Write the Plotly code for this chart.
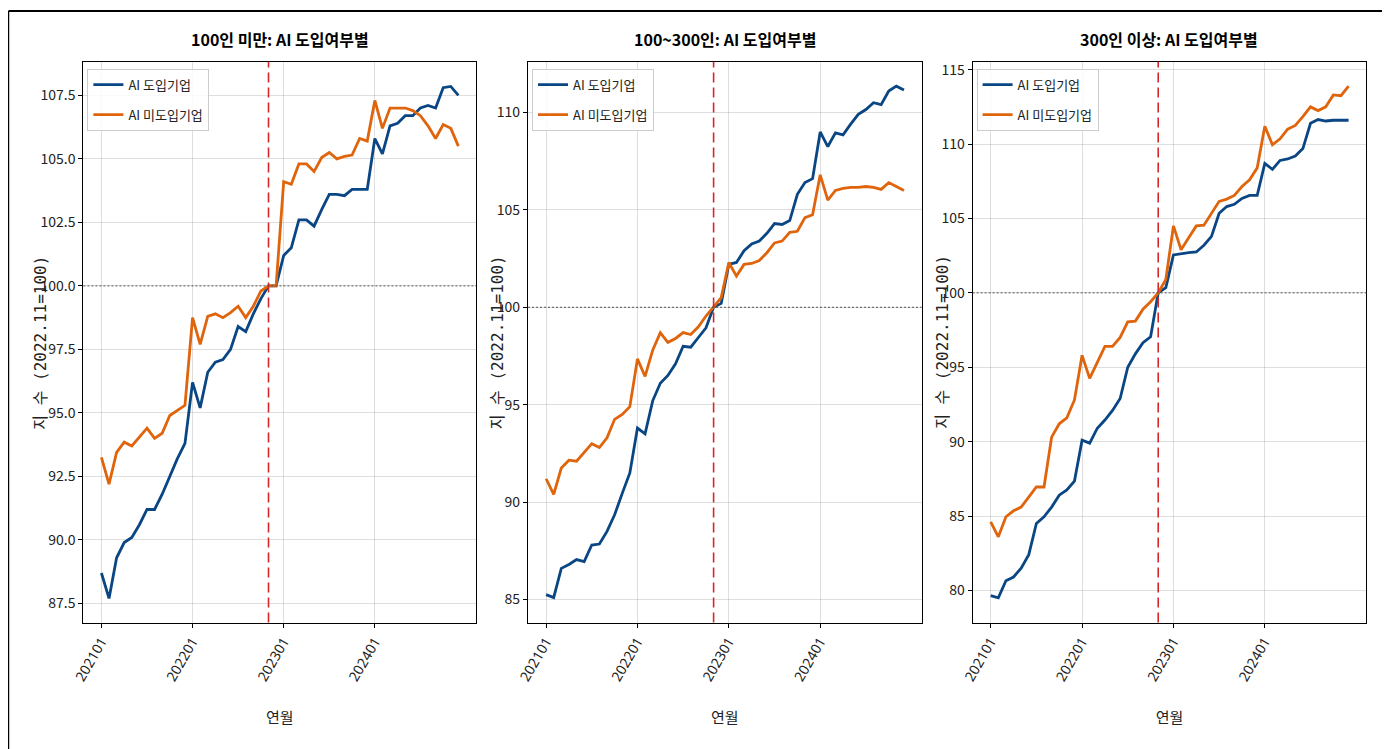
import plotly.graph_objects as go

months = [f"{y}{m:02d}" for y in (2021, 2022, 2023, 2024) for m in range(1, 13)]
tick_labels = ["202101", "202201", "202301", "202401"]
base_month = "202211"

titles = ["100인 미만: AI 도입여부별", "100~300인: AI 도입여부별", "300인 이상: AI 도입여부별"]
series_names = ["AI 도입기업", "AI 미도입기업"]
y_title = "지 수 (2022.11=100)"
x_title = "연월"

small_ai = [88.7, 87.7, 89.3, 89.9, 90.1, 90.6, 91.2, 91.2, 91.8, 92.5, 93.2, 93.8,
            96.2, 95.2, 96.6, 97.0, 97.1, 97.5, 98.4, 98.2, 98.9, 99.5, 100.0, 100.0,
            101.2, 101.5, 102.6, 102.6, 102.35, 103.0, 103.6, 103.6, 103.55, 103.8, 103.8, 103.8,
            105.8, 105.2, 106.3, 106.4, 106.7, 106.7, 107.0, 107.1, 107.0, 107.8, 107.85, 107.5]
small_non = [93.25, 92.2, 93.45, 93.85, 93.7, 94.05, 94.4, 94.0, 94.2, 94.9, 95.1, 95.3,
             98.75, 97.7, 98.8, 98.9, 98.75, 98.95, 99.2, 98.75, 99.2, 99.8, 100.0, 100.0,
             104.1, 104.0, 104.8, 104.8, 104.5, 105.05, 105.25, 105.0, 105.1, 105.15, 105.8, 105.7,
             107.3, 106.2, 107.0, 107.0, 107.0, 106.9, 106.7, 106.3, 105.8, 106.35, 106.2, 105.5]

mid_ai = [85.25, 85.1, 86.6, 86.8, 87.05, 86.95, 87.8, 87.85, 88.5, 89.35, 90.45, 91.5,
          93.8, 93.5, 95.2, 96.1, 96.5, 97.1, 98.0, 97.95, 98.45, 98.95, 100.0, 100.2,
          102.2, 102.3, 102.9, 103.25, 103.4, 103.8, 104.3, 104.25, 104.45, 105.8, 106.4, 106.6,
          109.0, 108.25, 108.95, 108.85, 109.4, 109.9, 110.15, 110.5, 110.4, 111.1, 111.35, 111.15]
mid_non = [91.2, 90.4, 91.75, 92.15, 92.1, 92.55, 93.0, 92.8, 93.3, 94.25, 94.5, 94.9,
           97.35, 96.45, 97.8, 98.7, 98.2, 98.4, 98.7, 98.6, 99.0, 99.55, 100.0, 100.5,
           102.3, 101.6, 102.2, 102.25, 102.4, 102.8, 103.3, 103.4, 103.85, 103.9, 104.6, 104.75,
           106.8, 105.5, 106.0, 106.1, 106.15, 106.15, 106.2, 106.15, 106.05, 106.4, 106.2, 106.0]

large_ai = [79.65, 79.5, 80.65, 80.9, 81.5, 82.4, 84.5, 84.95, 85.6, 86.4, 86.75, 87.35,
            90.1, 89.9, 90.9, 91.45, 92.1, 92.9, 95.0, 95.9, 96.65, 97.05, 100.0, 100.35,
            102.55, 102.65, 102.7, 102.75, 103.2, 103.8, 105.35, 105.8, 105.95, 106.35, 106.55, 106.55,
            108.7, 108.3, 108.9, 109.0, 109.2, 109.7, 111.4, 111.65, 111.55, 111.6, 111.6, 111.6]
large_non = [84.6, 83.6, 84.95, 85.35, 85.6, 86.3, 86.95, 86.95, 90.3, 91.2, 91.6, 92.8,
             95.8, 94.25, 95.3, 96.4, 96.4, 97.0, 98.05, 98.1, 98.9, 99.4, 100.0, 100.9,
             104.5, 102.9, 103.7, 104.5, 104.55, 105.35, 106.15, 106.3, 106.55, 107.15, 107.6, 108.4,
             111.2, 109.95, 110.35, 111.0, 111.25, 111.85, 112.5, 112.25, 112.5, 113.3, 113.25, 113.9]

panels = [(small_ai, small_non), (mid_ai, mid_non), (large_ai, large_non)]
y_ranges = [[86.75, 108.82], [83.82, 112.6], [77.84, 115.53]]
y_dticks = [2.5, 5, 5]
y_formats = [".1f", "d", "d"]

BLUE = "#0a4683"
ORANGE = "#e0640c"
FONT = "Noto Sans CJK KR"
NUMFONT = "Liberation Sans Narrow, Noto Sans CJK KR"

W, H = 1390, 749


def px(x):
    # compensate page offset / scale of the rendered view
    return (1.00857 * x - 20.7) / W


def py(y):
    return 1 - (y - 9) / H


x_doms = [(px(83), px(476)), (px(528), px(922)), (px(973), px(1367))]
y_dom = (py(623), py(60))
ytitle_x = [40, 497, 942]

fig = go.Figure()
base_idx = months.index(base_month)
x_idx = list(range(len(months)))
tick_idx = [months.index(t) for t in tick_labels]

for p, (ai, non) in enumerate(panels):
    sfx = "" if p == 0 else str(p + 1)
    leg = "legend" if p == 0 else f"legend{p + 1}"
    for k, (name, vals, col) in enumerate(zip(series_names, (ai, non), (BLUE, ORANGE))):
        fig.add_trace(go.Scatter(
            x=x_idx, y=vals, mode="lines", name=name,
            line=dict(color=col, width=2.8),
            xaxis="x" + sfx, yaxis="y" + sfx, legend=leg,
            legendgroup=f"p{p}s{k}",
        ))
    axis_common = dict(
        showline=True, linecolor="black", linewidth=1.3, mirror=True,
        ticks="outside", ticklen=4, tickcolor="black",
        showgrid=True, gridcolor="rgba(0,0,0,0.13)", gridwidth=1,
        zeroline=False,
    )
    fig.update_layout(**{
        "xaxis" + sfx: dict(
            domain=x_doms[p], anchor="y" + sfx,
            range=[-2.37, 49.33],
            tickmode="array", tickvals=tick_idx, ticktext=tick_labels,
            tickangle=-60,
            tickfont=dict(family="Noto Sans", size=14, color="#222"),
            title=dict(text=x_title, font=dict(family=FONT, size=15, color="#222"), standoff=28),
            **axis_common,
        ),
        "yaxis" + sfx: dict(
            domain=y_dom, anchor="x" + sfx,
            range=y_ranges[p], dtick=y_dticks[p], tick0=0, tickformat=y_formats[p],
            tickfont=dict(family=NUMFONT, size=14, color="#222"),
            **axis_common,
        ),
        leg: dict(
            x=x_doms[p][0] + 4 / W, y=y_dom[1] - 7 / H, xanchor="left", yanchor="top",
            bgcolor="rgba(255,255,255,0.85)", bordercolor="#cccccc", borderwidth=1,
            font=dict(family=FONT, size=13, color="#222"),
            itemwidth=30, tracegroupgap=10,
        ),
    })
    fig.add_shape(type="line", xref="x" + sfx, yref="y" + sfx + " domain",
                  x0=base_idx, x1=base_idx, y0=0, y1=1,
                  line=dict(color="#d62728", width=1.6, dash="10px,5px"))
    fig.add_shape(type="line", xref="x" + sfx + " domain", yref="y" + sfx,
                  x0=0, x1=1, y0=100, y1=100,
                  line=dict(color="#555555", width=1, dash="2px,2px"))
    fig.add_annotation(
        text=f"<b>{titles[p]}</b>", xref="paper", yref="paper",
        x=(x_doms[p][0] + x_doms[p][1]) / 2, y=py(37),
        xanchor="center", yanchor="middle", showarrow=False,
        font=dict(family=FONT, size=16, color="black"),
    )
    fig.add_annotation(
        text=y_title, xref="paper", yref="paper",
        x=px(ytitle_x[p]), y=(y_dom[0] + y_dom[1]) / 2,
        xanchor="center", yanchor="middle", showarrow=False, textangle=-90,
        font=dict(family="DejaVu Sans Mono, Noto Sans CJK KR", size=16, color="#222"),
    )

fig.add_shape(type="line", xref="paper", yref="paper", x0=px(8), x1=px(8), y0=0, y1=1,
              line=dict(color="black", width=1.5))
fig.add_shape(type="line", xref="paper", yref="paper", x0=px(8), x1=1, y0=1, y1=1,
              line=dict(color="black", width=2))

fig.update_layout(
    width=W, height=H,
    margin=dict(l=0, r=0, t=0, b=0),
    paper_bgcolor="white", plot_bgcolor="white",
    showlegend=True,
    font=dict(family=FONT, color="#222"),
)

fig.write_html("out.html")
